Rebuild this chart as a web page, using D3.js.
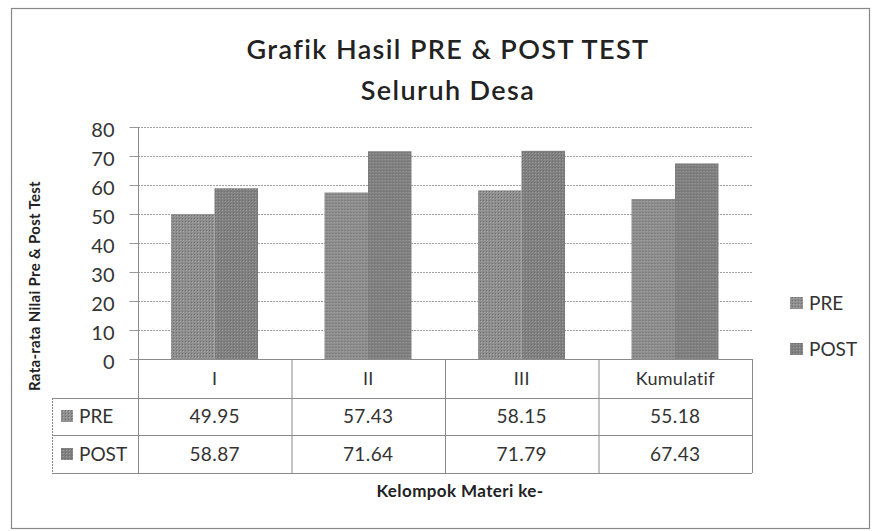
<!DOCTYPE html>
<html><head><meta charset="utf-8">
<script src="https://cdn.jsdelivr.net/npm/d3@7"></script>
<style>
html,body{margin:0;padding:0;background:#fff;}
svg{display:block;font-family:Lato,"Open Sans",sans-serif;}
</style></head>
<body><svg id="c" width="874" height="531"></svg>
<script>
const categories = ["I", "II", "III", "Kumulatif"];
const seriesNames = ["PRE", "POST"];
const preValues = [49.95, 57.43, 58.15, 55.18];
const postValues = [58.87, 71.64, 71.79, 67.43];
const yTicks = [0, 10, 20, 30, 40, 50, 60, 70, 80];
const titleLines = ["Grafik Hasil PRE & POST TEST", "Seluruh Desa"];
const yTitle = "Rata-rata Nilai Pre & Post Test";
const xTitle = "Kelompok Materi ke-";

const seriesValues = {PRE: preValues, POST: postValues};
const colors = {PRE: "#8e8e8e", POST: "#808080"};

const svg = d3.select("#c");
const defs = svg.append("defs");
seriesNames.forEach((s, i) => {
  const p = defs.append("pattern").attr("id", "pat" + s)
    .attr("width", 3).attr("height", 3).attr("patternUnits", "userSpaceOnUse");
  p.append("rect").attr("width", 3).attr("height", 3).attr("fill", colors[s]);
  p.append("rect").attr("x", 0).attr("y", 0).attr("width", 1).attr("height", 1)
    .attr("fill", i === 0 ? "#a8a8a8" : "#9c9c9c");
  p.append("rect").attr("x", 2).attr("y", 2).attr("width", 1).attr("height", 1)
    .attr("fill", "#6e6e6e");
});

// outer frame
svg.append("rect").attr("x", 11.5).attr("y", 8.5).attr("width", 858).attr("height", 520)
  .attr("fill", "none").attr("stroke", "#888").attr("stroke-width", 1.2);

const pL = 138, pR = 752, pT = 127, pB = 359;
const x = d3.scaleBand().domain(categories).range([pL, pR]);
const x1 = d3.scaleBand().domain(seriesNames).range([33, 120]);
const y = d3.scaleLinear().domain([0, 80]).range([pB, pT]);

// title
svg.append("g").selectAll("text").data(titleLines).join("text")
  .attr("x", 448).attr("y", (d, i) => 59 + i * 41)
  .attr("text-anchor", "middle").attr("font-size", 27).attr("font-weight", 600)
  .attr("letter-spacing", 1.4)
  .attr("fill", "#222").text(d => d);

// gridlines
svg.append("g").selectAll("line").data(yTicks.filter(t => t > 0)).join("line")
  .attr("x1", pL).attr("x2", pR).attr("y1", d => y(d) + 0.5).attr("y2", d => y(d) + 0.5)
  .attr("stroke", "#a0a0a0").attr("stroke-width", 1).attr("stroke-dasharray", "2,1");

// y axis
const yAxis = d3.axisLeft(y).tickValues(yTicks).tickSize(9).tickPadding(15);
const ga = svg.append("g").attr("transform", `translate(${pL + 0.5},0)`).call(yAxis);
ga.select(".domain").remove();
ga.selectAll(".tick line").attr("stroke", "#999");
ga.selectAll("text").attr("font-size", 20).attr("fill", "#333").attr("dy", "0.45em")
  .attr("font-family", "Lato,sans-serif");

// bars
const groups = svg.append("g").selectAll("g").data(categories).join("g")
  .attr("transform", d => `translate(${x(d)},0)`);
groups.selectAll("rect").data((c, ci) => seriesNames.map(s => ({s, v: seriesValues[s][ci]})))
  .join("rect")
  .attr("x", d => x1(d.s)).attr("width", x1.bandwidth())
  .attr("y", d => y(d.v)).attr("height", d => y(0) - y(d.v))
  .attr("fill", d => `url(#pat${d.s})`);

// table
const rowBase = [423, 461];
const tableLeft = 52;
const tl = svg.append("g").attr("stroke", "#8a8a8a").attr("stroke-width", 1);
tl.append("line").attr("x1", pL).attr("x2", pR).attr("y1", pB + 0.5).attr("y2", pB + 0.5);
tl.append("line").attr("x1", tableLeft).attr("x2", pR).attr("y1", 398.5).attr("y2", 398.5);
tl.append("line").attr("x1", tableLeft).attr("x2", pR).attr("y1", 435.5).attr("y2", 435.5);
tl.append("line").attr("x1", tableLeft).attr("x2", pR).attr("y1", 473.5).attr("y2", 473.5);
tl.append("line").attr("x1", tableLeft + 0.5).attr("x2", tableLeft + 0.5).attr("y1", 398).attr("y2", 473)
  .attr("stroke-dasharray", "2,1");
tl.append("line").attr("x1", pL + 0.5).attr("x2", pL + 0.5).attr("y1", pT).attr("y2", 473);
tl.selectAll("line.v").data(categories).join("line").attr("class", "v")
  .attr("x1", d => x(d) + x.bandwidth() + 0.5).attr("x2", d => x(d) + x.bandwidth() + 0.5)
  .attr("y1", pB).attr("y2", 473);

// category header labels
svg.append("g").selectAll("text").data(categories).join("text")
  .attr("x", d => x(d) + x.bandwidth() / 2).attr("y", 385)
  .attr("text-anchor", "middle").attr("font-size", 18).attr("letter-spacing", 0.3)
  .attr("fill", "#333").text(d => d);

// data rows
seriesNames.forEach((s, si) => {
  const by = rowBase[si];
  svg.append("rect").attr("x", 61).attr("y", by - 13).attr("width", 12).attr("height", 12)
    .attr("fill", `url(#pat${s})`);
  svg.append("text").attr("x", 79).attr("y", by).attr("font-size", 19).attr("fill", "#333").text(s);
  svg.append("g").selectAll("text").data(categories).join("text")
    .attr("x", d => x(d) + x.bandwidth() / 2).attr("y", by)
    .attr("text-anchor", "middle").attr("font-size", 19).attr("letter-spacing", 0.4)
    .attr("fill", "#333")
    .text((d, i) => seriesValues[s][i].toFixed(2));
});

// axis titles
svg.append("text").attr("transform", "translate(40,286) rotate(-90)")
  .attr("text-anchor", "middle").attr("font-size", 15).attr("font-weight", 700)
  .attr("letter-spacing", 0.3)
  .attr("fill", "#222").text(yTitle);
svg.append("text").attr("x", 460).attr("y", 497).attr("text-anchor", "middle")
  .attr("font-size", 17).attr("font-weight", 700).attr("letter-spacing", 0.4)
  .attr("fill", "#222").text(xTitle);

// legend
const lg = svg.append("g").selectAll("g").data(seriesNames).join("g")
  .attr("transform", (d, i) => `translate(790,${310 + i * 46})`);
lg.append("rect").attr("x", 0).attr("y", -13).attr("width", 13).attr("height", 12)
  .attr("fill", d => `url(#pat${d})`);
lg.append("text").attr("x", 19).attr("y", 0).attr("font-size", 19).attr("fill", "#333").text(d => d);
</script></body></html>
